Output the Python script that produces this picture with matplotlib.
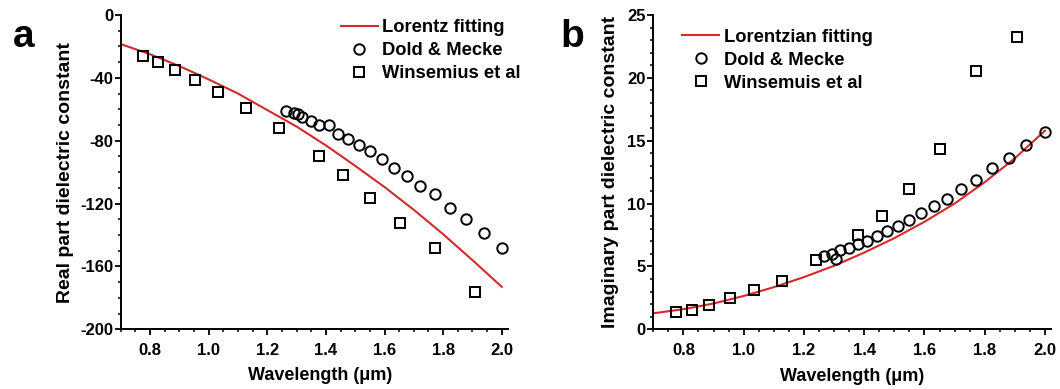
import numpy as np
import matplotlib.pyplot as plt
from matplotlib.ticker import MultipleLocator

plt.rcParams['font.family'] = ['Liberation Sans', 'DejaVu Sans']
plt.rcParams['font.weight'] = 'bold'
plt.rcParams['axes.unicode_minus'] = False

# Winsemius et al. (same wavelengths in both panels)
wl_win = [0.775, 0.827, 0.886, 0.954, 1.033, 1.127, 1.240, 1.378, 1.459, 1.550, 1.653, 1.771, 1.907]
re_win = [-25.9, -30.1, -35.2, -41.4, -48.8, -59.0, -72.1, -89.7, -101.8, -116.3, -132.2, -148.1, -176.1]
im_win = [1.38, 1.51, 1.91, 2.52, 3.16, 3.82, 5.55, 7.48, 9.0, 11.12, 14.33, 20.57, 23.22]

# Dold & Mecke
wl_dm = [1.265, 1.292, 1.305, 1.319, 1.348, 1.378, 1.409, 1.442, 1.476, 1.512,
         1.550, 1.590, 1.632, 1.676, 1.722, 1.771, 1.824, 1.879, 1.938, 2.000]
re_dm = [-60.9, -62.6, -63.0, -64.7, -67.3, -70.0, -70.0, -75.9, -78.9, -82.7,
         -86.5, -91.6, -97.2, -102.3, -108.6, -114.1, -123.0, -129.8, -138.9, -148.5]
im_dm = [5.81, 5.97, 5.63, 6.29, 6.50, 6.82, 7.01, 7.40, 7.83, 8.20,
         8.73, 9.26, 9.79, 10.40, 11.12, 11.86, 12.79, 13.59, 14.65, 15.71]

# Lorentz fit curves
wl_fit = [0.7, 0.8, 0.9, 1.0, 1.1, 1.2, 1.3, 1.4, 1.5, 1.6, 1.7, 1.8, 1.9, 2.0]
re_fit = [-18.5, -25.0, -32.5, -41.0, -50.0, -60.5, -71.0, -83.0, -96.0, -109.5, -124.0, -139.5, -156.0, -173.0]
im_fit = [1.27, 1.60, 2.05, 2.65, 3.35, 4.15, 5.05, 6.10, 7.25, 8.55, 10.0, 11.7, 13.6, 15.8]

red = '#d42a2a'
fs = 12
leg_fs = 13.2


def style_axes(ax, ymajor, yminor):
    for s in ['top', 'right']:
        ax.spines[s].set_visible(False)
    for s in ['left', 'bottom']:
        ax.spines[s].set_linewidth(1.4)
    ax.set_xlim(0.7, 2.02)
    ax.xaxis.set_major_locator(MultipleLocator(0.2))
    ax.xaxis.set_minor_locator(MultipleLocator(0.05))
    ax.yaxis.set_major_locator(MultipleLocator(ymajor))
    ax.yaxis.set_minor_locator(MultipleLocator(yminor))
    ax.tick_params(which='major', direction='out', length=4, width=1.3, labelsize=fs)
    ax.tick_params(which='minor', direction='out', length=2.5, width=1.1)
    ax.tick_params(axis='x', which='major', pad=6)
    ax.tick_params(axis='y', which='major', pad=1.5)
    ax.set_xlabel('Wavelength (\u03bcm)', fontsize=13, fontweight='bold')


fig = plt.figure(figsize=(10.6, 3.89), dpi=100)
ax1 = fig.add_axes([0.1139, 0.1535, 0.365, 0.808])
ax2 = fig.add_axes([0.6163, 0.1535, 0.3752, 0.808])

mk = dict(linestyle='none', markerfacecolor='none', markeredgecolor='black',
          markeredgewidth=1.4, markersize=7.5)
leg_kw = dict(loc='upper left', frameon=False, fontsize=leg_fs, handlelength=2.0,
              handletextpad=0.25, labelspacing=0.33, borderaxespad=0)

# panel a: real part
ax1.plot(wl_fit, re_fit, color=red, lw=1.5, label='Lorentz fitting')
ax1.plot(wl_dm, re_dm, marker='o', label='Dold & Mecke', **mk)
ax1.plot(wl_win, re_win, marker='s', label='Winsemius et al', **mk)
ax1.set_ylim(-200, 0)
style_axes(ax1, 40, 10)
ax1.set_ylabel('Real part dielectric constant', fontsize=14, fontweight='bold')
ax1.yaxis.set_label_coords(-0.121, 0.5)
ax1.xaxis.set_label_coords(0.515, -0.12)
ax1.legend(bbox_to_anchor=(0.55, 1.01), **leg_kw)

# panel b: imaginary part
ax2.plot(wl_fit, im_fit, color=red, lw=1.5, label='Lorentzian fitting')
ax2.plot(wl_dm, im_dm, marker='o', label='Dold & Mecke', **mk)
ax2.plot(wl_win, im_win, marker='s', label='Winsemuis et al', **mk)
ax2.set_ylim(0, 25)
style_axes(ax2, 5, 1)
ax2.set_ylabel('Imaginary part dielectric constant', fontsize=14, fontweight='bold')
ax2.yaxis.set_label_coords(-0.087, 0.5)
ax2.xaxis.set_label_coords(0.5, -0.123)
ax2.legend(bbox_to_anchor=(0.055, 0.98), **leg_kw)

fig.text(0.012, 0.952, 'a', fontsize=28, fontweight='bold', va='top', ha='left')
fig.text(0.529, 0.952, 'b', fontsize=28, fontweight='bold', va='top', ha='left')

fig.savefig('out.png', dpi=100, facecolor='white')
